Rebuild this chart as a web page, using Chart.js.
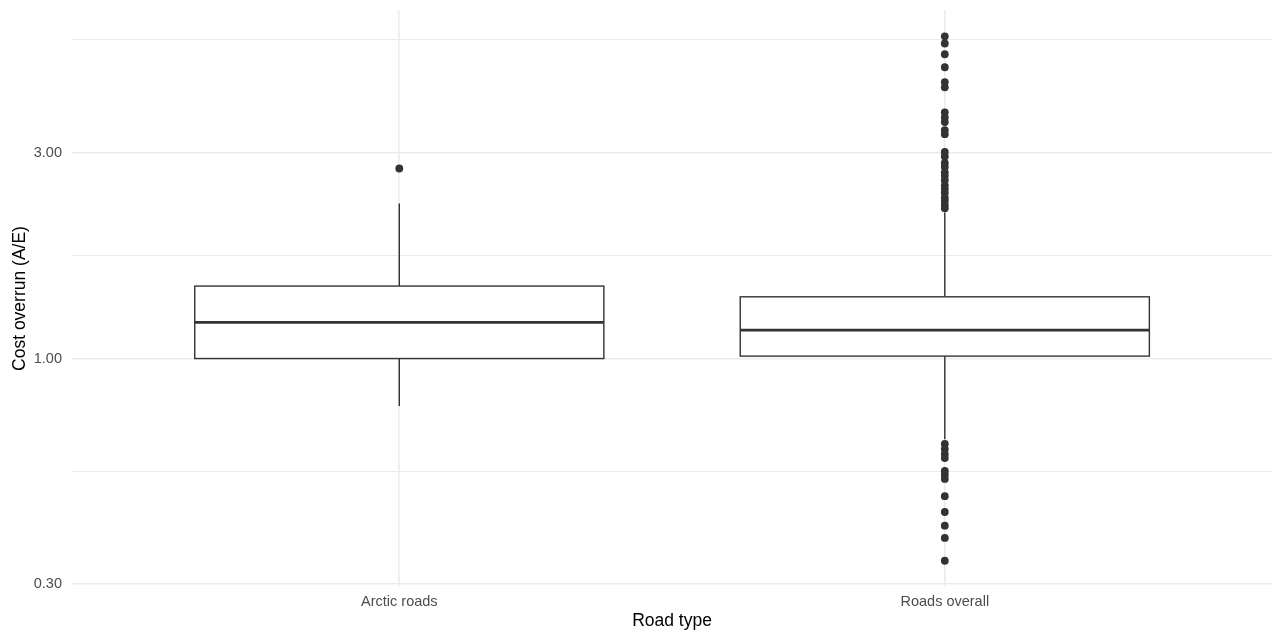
<!DOCTYPE html>
<html>
<head>
<meta charset="utf-8">
<script src="https://cdn.jsdelivr.net/npm/chart.js@4.4.0/dist/chart.umd.min.js"></script>
<style>
  html, body { margin: 0; padding: 0; background: #fff; }
  #wrap { width: 1276px; height: 634px; }
</style>
</head>
<body>
<div id="wrap"><canvas id="box-chart"></canvas></div>
<script>
// values (log scale)
const roadTypes = ["Arctic roads", "Roads overall"];
const q1 = [1.00, 1.013];
const medians = [1.213, 1.164];
const q3 = [1.472, 1.390];
const whiskerLow = [0.776, 0.650];
const whiskerHigh = [2.288, 2.183];

const arcticOutliers = [2.756];
const overallOutliers = [
    5.58, 5.37, 5.07, 4.73, 4.37, 4.25, 3.72, 3.62, 3.53, 3.38, 3.31,
    3.01, 2.94, 2.84, 2.78, 2.70, 2.65, 2.59, 2.52, 2.47, 2.42, 2.36, 2.32, 2.27, 2.23,
    0.634, 0.617, 0.601, 0.588, 0.549, 0.538, 0.526, 0.480, 0.441, 0.410, 0.384, 0.340
];

const yTicks = [0.3, 1, 3];
const yMinorTicks = [0.5477, 1.732, 5.477];

const lineColor = "#333333";
const gridColor = "#ebebeb";
const boxHalf = 0.375;
const fontFamily = "'Liberation Sans', Arial, sans-serif";

const box_chart = document.getElementById("box-chart");

// draws whiskers, boxes and medians through the chart scales
const boxPlugin = {
    id: "boxes",
    beforeDatasetsDraw(chart) {
        const ctx = chart.ctx;
        const xs = chart.scales.x;
        const ys = chart.scales.y;
        ctx.save();
        ctx.strokeStyle = lineColor;
        for (let i = 0; i < roadTypes.length; i++) {
            let xc = xs.getPixelForValue(i);
            let xl = xs.getPixelForValue(i - boxHalf);
            let xr = xs.getPixelForValue(i + boxHalf);
            let yq1 = ys.getPixelForValue(q1[i]);
            let yq3 = ys.getPixelForValue(q3[i]);
            let ymed = ys.getPixelForValue(medians[i]);

            ctx.lineWidth = 1.4;
            ctx.beginPath();
            ctx.moveTo(xc, ys.getPixelForValue(whiskerHigh[i]));
            ctx.lineTo(xc, yq3);
            ctx.moveTo(xc, yq1);
            ctx.lineTo(xc, ys.getPixelForValue(whiskerLow[i]));
            ctx.stroke();

            ctx.fillStyle = "#ffffff";
            ctx.fillRect(xl, yq3, xr - xl, yq1 - yq3);
            ctx.strokeRect(xl, yq3, xr - xl, yq1 - yq3);

            ctx.lineWidth = 2.8;
            ctx.beginPath();
            ctx.moveTo(xl, ymed);
            ctx.lineTo(xr, ymed);
            ctx.stroke();
        }
        ctx.restore();
    }
};

function toPoints(index, values) {
    let pts = [];
    for (let i = 0; i < values.length; i++) {
        pts.push({ x: index, y: values[i] });
    }
    return pts;
}

let myChart = new Chart(box_chart, {
    type: "scatter",
    data: {
        datasets: [
            { label: roadTypes[0], data: toPoints(0, arcticOutliers) },
            { label: roadTypes[1], data: toPoints(1, overallOutliers) }
        ]
    },
    options: {
        responsive: true,
        maintainAspectRatio: false,
        animation: false,
        layout: { padding: { top: 10, right: -3, left: 0, bottom: 0 } },
        elements: {
            point: { radius: 3.9, backgroundColor: lineColor, borderWidth: 0, hoverRadius: 3.9 }
        },
        plugins: {
            legend: { display: false },
            tooltip: { enabled: false }
        },
        scales: {
            x: {
                type: "linear",
                min: -0.6,
                max: 1.6,
                afterBuildTicks: (scale) => { scale.ticks = [{ value: 0 }, { value: 1 }]; },
                afterFit: (scale) => {
                    scale.height = 47;
                    scale.paddingLeft = 0;
                    scale.paddingRight = 0;
                },
                border: { display: false },
                grid: { color: gridColor, lineWidth: 1.6, drawTicks: false },
                ticks: {
                    autoSkip: false,
                    maxRotation: 0,
                    padding: 6,
                    color: "#4d4d4d",
                    font: { family: fontFamily, size: 14.5 },
                    callback: (v) => roadTypes[v]
                },
                title: {
                    display: true,
                    text: "Road type",
                    color: "#000000",
                    font: { family: fontFamily, size: 17.5 },
                    padding: { top: 0, bottom: 2 }
                }
            },
            y: {
                type: "logarithmic",
                min: 0.2956,
                max: 6.42,
                afterBuildTicks: (scale) => {
                    let all = yTicks.concat(yMinorTicks).sort((a, b) => a - b);
                    scale.ticks = all.map(v => ({ value: v }));
                },
                afterFit: (scale) => {
                    scale.width = 72;
                    scale.paddingTop = 0;
                    scale.paddingBottom = 0;
                },
                border: { display: false },
                grid: {
                    color: gridColor,
                    drawTicks: false,
                    lineWidth: (c) => (c.tick && yTicks.includes(c.tick.value)) ? 1.6 : 1.0
                },
                ticks: {
                    autoSkip: false,
                    padding: 10,
                    color: "#4d4d4d",
                    font: { family: fontFamily, size: 14.5 },
                    callback: (v) => yTicks.includes(v) ? v.toFixed(2) : ""
                },
                title: {
                    display: true,
                    text: "Cost overrun (A/E)",
                    color: "#000000",
                    font: { family: fontFamily, size: 17.5 },
                    padding: { top: 10, bottom: 0 }
                }
            }
        }
    },
    plugins: [boxPlugin]
});
</script>
</body>
</html>
